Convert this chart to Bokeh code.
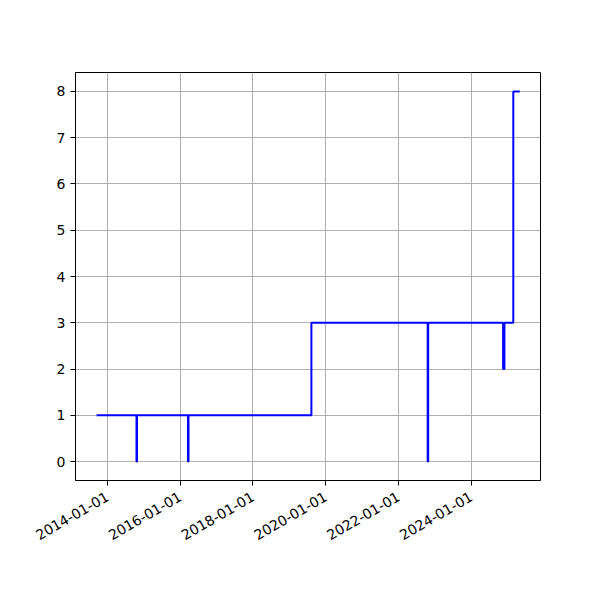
import math
from datetime import datetime
from bokeh.plotting import figure
from bokeh.models import FixedTicker, DatetimeTickFormatter, Range1d
from bokeh.embed import file_html
from bokeh.resources import INLINE

dates = ["2013-09-15", "2014-10-20", "2014-10-25", "2016-03-20", "2016-03-25",
         "2019-08-10", "2022-10-20", "2022-10-25", "2024-11-15", "2024-11-28",
         "2025-02-25", "2025-05-01"]
values = [1, 0, 1, 0, 1, 3, 0, 3, 2, 3, 8, 8]
tick_dates = ["2014-01-01", "2016-01-01", "2018-01-01", "2020-01-01", "2022-01-01", "2024-01-01"]
y_ticks = [0, 1, 2, 3, 4, 5, 6, 7, 8]

def to_dt(s):
    return datetime.strptime(s, "%Y-%m-%d")

def to_ms(s):
    return (to_dt(s) - datetime(1970, 1, 1)).total_seconds() * 1000.0

xs = [to_dt(d) for d in dates]

p = figure(width=584, height=584, x_axis_type="datetime", output_backend="svg",
           toolbar_location=None,
           x_range=Range1d(to_ms("2013-02-15"), to_ms("2025-11-25")),
           y_range=Range1d(-0.41, 8.41),
           min_border_left=75, min_border_right=44, min_border_top=72, min_border_bottom=104)

p.step(xs, values, mode="after", line_color="blue", line_width=2)

p.xaxis.ticker = FixedTicker(ticks=[to_ms(t) for t in tick_dates])
p.xaxis.formatter = DatetimeTickFormatter(days="%Y-%m-%d", months="%Y-%m-%d", years="%Y-%m-%d")
p.xaxis.major_label_orientation = math.pi / 6
p.yaxis.ticker = FixedTicker(ticks=y_ticks)

for ax in (p.xaxis, p.yaxis):
    ax.axis_line_color = "black"
    ax.major_tick_line_color = "black"
    ax.major_tick_in = 0
    ax.major_tick_out = 5
    ax.minor_tick_line_color = None
    ax.major_label_text_font = "DejaVu Sans"
    ax.major_label_text_font_size = "14px"
    ax.major_label_text_color = "black"

p.xaxis.major_label_standoff = 10
p.yaxis.major_label_standoff = 5

p.xgrid.ticker = p.xaxis.ticker
p.ygrid.ticker = p.yaxis.ticker
p.grid.grid_line_color = "#b0b0b0"
p.grid.grid_line_width = 1
p.outline_line_color = "black"
p.outline_line_width = 1
p.background_fill_color = "white"
p.border_fill_color = "white"

open("out.html", "w").write(file_html(p, INLINE))
